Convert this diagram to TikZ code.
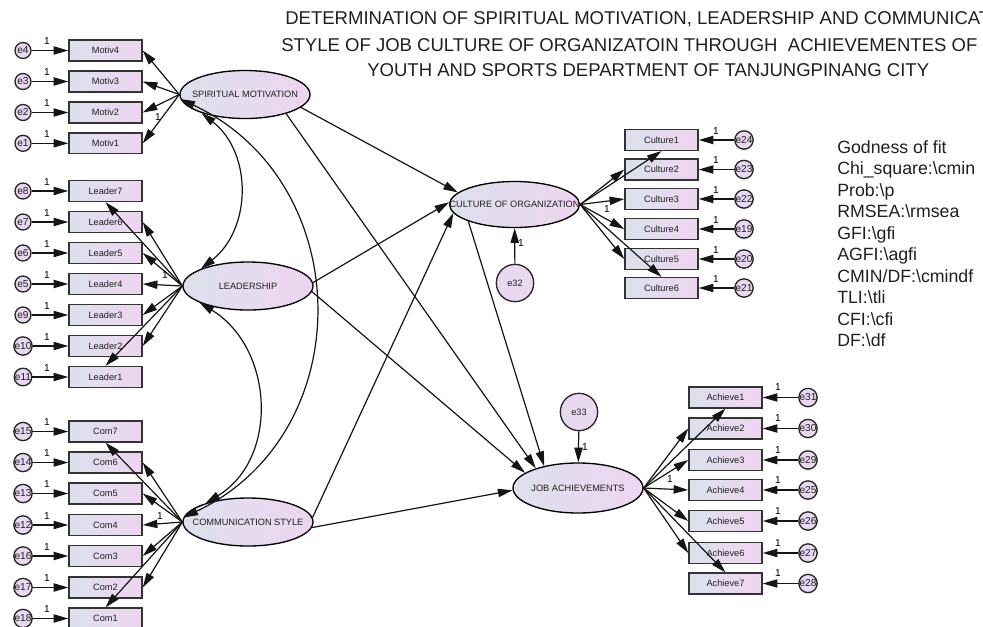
\documentclass[tikz,border=0pt]{standalone}
\usepackage{fontspec}
\setmainfont{Liberation Sans}
\usetikzlibrary{arrows.meta,shapes.geometric}
\definecolor{boxL}{HTML}{DCE1EC}
\definecolor{boxR}{HTML}{EED4F1}
\definecolor{errF}{HTML}{E8D8F0}
\definecolor{lineC}{HTML}{151515}
\definecolor{txtC}{HTML}{202020}
\newcommand{\ztxt}[1]{\makebox[0pt][c]{#1}}
\tikzset{
  smallfont/.style={font=\fontsize{6.9pt}{8pt}\selectfont, text=txtC},
  midfont/.style={font=\fontsize{7.6pt}{8pt}\selectfont, text=txtC},
  ind/.style={smallfont, rectangle, draw=black!80, line width=1.1pt, left color=boxL, right color=boxR, minimum width=54.75pt, minimum height=15.5pt, inner sep=0pt},
  lat/.style={smallfont, ellipse, draw=black, line width=1pt, left color=boxL, right color=boxR, minimum width=97.5pt, minimum height=36pt, inner sep=0pt},
  err/.style={midfont, circle, draw=black!85, line width=1pt, fill=errF, minimum size=12pt, inner sep=0pt},
  bigerr/.style={err, smallfont, minimum size=28pt},
  arr/.style={->, line width=0.9pt, draw=lineC},
  dbl/.style={<->, line width=0.9pt, draw=lineC},
  one/.style={midfont, inner sep=0pt, text=black},
  ttl/.style={font=\fontsize{13.9pt}{16pt}\selectfont, text=txtC, inner sep=0pt, anchor=base west},
  fitline/.style={font=\fontsize{13.3pt}{16pt}\selectfont, text=txtC, inner sep=0pt, anchor=base west},
}
\begin{document}
\begin{tikzpicture}[x=0.75pt,y=-0.75pt,>={Triangle[length=11pt,width=6.2pt]}]
\useasboundingbox (0,0) rectangle (983,626);
\fill[white] (0,0) rectangle (983,626);

% title
\node[ttl] (T1) at (285,24.4) {DETERMINATION OF SPIRITUAL MOTIVATION, LEADERSHIP AND COMMUNICAT};
\node[ttl] (T2) at (281,51.4) {STYLE OF JOB CULTURE OF ORGANIZATOIN THROUGH\ \ ACHIEVEMENTES OF};
\node[ttl] (T3) at (367,76.4) {YOUTH AND SPORTS DEPARTMENT OF TANJUNGPINANG CITY};

% goodness of fit
\foreach \txt [count=\k from 0] in {Godness of fit, Chi\_square:\textbackslash cmin, Prob:\textbackslash p, RMSEA:\textbackslash rmsea, GFI:\textbackslash gfi, AGFI:\textbackslash agfi, CMIN/DF:\textbackslash cmindf, TLI:\textbackslash tli, CFI:\textbackslash cfi, DF:\textbackslash df}{
  \node[fitline] (F\k) at (837,146.7+21.5*\k+6.3) {\txt};
}

% latent variables
\node[lat] (SM) at (245,94.5) {\ztxt{SPIRITUAL MOTIVATION}};
\node[lat] (LD) at (248,286) {\ztxt{LEADERSHIP}};
\node[lat] (CS) at (248,522) {\ztxt{COMMUNICATION STYLE}};
\node[lat, minimum height=34.5pt] (CO) at (514.5,204.5) {\ztxt{CULTURE OF ORGANIZATION}};
\node[lat, minimum height=37.5pt] (JA) at (578,488) {\ztxt{JOB ACHIEVEMENTS}};

% spiritual motivation indicators
\foreach \nm/\yy/\en [count=\i] in {Motiv4/50.5/e4,Motiv3/81.5/e3,Motiv2/112.5/e2,Motiv1/143.3/e1}{
  \node[ind] (M\i) at (105.5,\yy) {\nm};
  \node[err] (EM\i) at (23,\yy) {\en};
  \node[one] (OM\i) at (47,\yy-9) {1};
}
% leadership indicators
\foreach \nm/\yy/\en [count=\i] in {Leader7/191/e8,Leader6/222/e7,Leader5/253/e6,Leader4/284/e5,Leader3/315/e9,Leader2/346/e10,Leader1/377/e11}{
  \node[ind] (L\i) at (105.5,\yy) {\nm};
  \node[err] (EL\i) at (23,\yy) {\en};
  \node[one] (OL\i) at (47,\yy-9) {1};
}
% communication indicators
\foreach \nm/\yy/\en [count=\i] in {Com7/431.5/e15,Com6/462.5/e14,Com5/493.5/e13,Com4/525/e12,Com3/556/e16,Com2/587.5/e17,Com1/618.5/e18}{
  \node[ind] (K\i) at (105.5,\yy) {\nm};
  \node[err] (EK\i) at (23,\yy) {\en};
  \node[one] (OK\i) at (47,\yy-9) {1};
}
% culture indicators
\foreach \nm/\yy/\en [count=\i] in {Culture1/140/e24,Culture2/169.5/e23,Culture3/199/e22,Culture4/229/e19,Culture5/259/e20,Culture6/288/e21}{
  \node[ind] (C\i) at (661.5,\yy) {\nm};
  \node[err] (EC\i) at (744,\yy) {\en};
  \node[one] (OC\i) at (716,\yy-9) {1};
}
% achievement indicators
\foreach \nm/\yy/\en [count=\i] in {Achieve1/397.5/e31,Achieve2/428.5/e30,Achieve3/460/e29,Achieve4/490/e25,Achieve5/521/e26,Achieve6/553/e27,Achieve7/583.5/e28}{
  \node[ind] (A\i) at (725.5,\yy) {\nm};
  \node[err] (EA\i) at (808,\yy) {\en};
  \node[one] (OA\i) at (778,\yy-10) {1};
}

% structural disturbances
\node[bigerr] (E32) at (515,283) {e32};
\node[bigerr] (E33) at (579,412) {e33};

% error -> indicator arrows
\foreach \i in {1,...,4}{\draw[arr] (EM\i) -- (M\i);}
\foreach \i in {1,...,7}{\draw[arr] (EL\i) -- (L\i); \draw[arr] (EK\i) -- (K\i); \draw[arr] (EA\i) -- (A\i);}
\foreach \i in {1,...,6}{\draw[arr] (EC\i) -- (C\i);}

% latent -> indicator arrows
\foreach \i in {1,...,4}{\draw[arr] (SM.west) -- (M\i.east);}
\draw[arr] (LD.west) -- (L1.south);
\foreach \i in {2,...,6}{\draw[arr] (LD.west) -- (L\i.east);}
\draw[arr] (LD.west) -- (L7.north);
\draw[arr] (CS.west) -- (K1.south);
\foreach \i in {2,...,6}{\draw[arr] (CS.west) -- (K\i.east);}
\draw[arr] (CS.west) -- (K7.north);
\draw[arr] (CO.east) -- (C1.south);
\foreach \i in {2,...,5}{\draw[arr] (CO.east) -- (C\i.west);}
\draw[arr] (CO.east) -- (C6.north);
\draw[arr] (JA.east) -- (A1.south);
\foreach \i in {2,...,6}{\draw[arr] (JA.east) -- (A\i.west);}
\draw[arr] (JA.east) -- (A7.north);

% fixed loading labels
\node[one] (OMx) at (158,117) {1};
\node[one] (OLx) at (165,275) {1};
\node[one] (OKx) at (160,516) {1};
\node[one] (OCx) at (607,209) {1};
\node[one] (OAx) at (670,479) {1};
\node[one] (O32) at (521,243) {1};
\node[one] (O33) at (585,447) {1};

% disturbance arrows
\draw[arr] (E32) -- (CO);
\draw[arr] (E33) -- (JA);

% structural paths
\draw[arr] (SM.-13) -- (CO.168);
\draw[arr] (SM.-25) -- (JA.155);
\draw[arr] (LD.3) -- (CO.178);
\draw[arr] (LD.-5) -- (JA.164);
\draw[arr] (CS.4) -- (CO.188);
\draw[arr] (CS.-5) -- (JA.182);
\draw[arr] (CO.200) -- (JA.147);

% covariances
\draw[dbl] (SM.203) .. controls +(51,40) and +(51,-40) .. (LD.160);
\draw[dbl] (SM.184) .. controls +(177,83) and +(177,-84) .. (CS.176);
\draw[dbl] (LD.199.5) .. controls +(74,45) and +(74,-45) .. (CS.156);
\end{tikzpicture}
\end{document}
